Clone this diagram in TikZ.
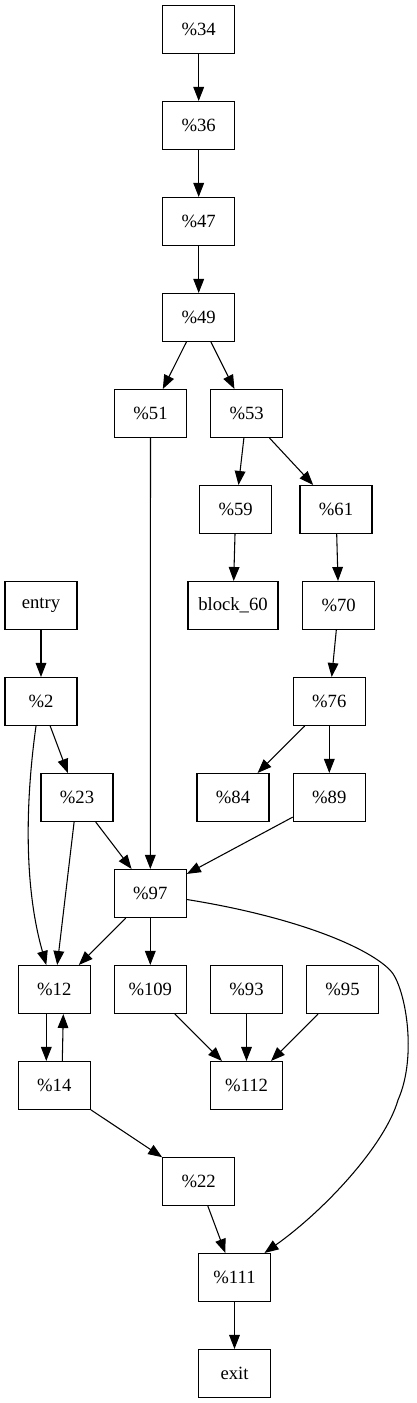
\documentclass[tikz,border=0pt]{standalone}
\usepackage{fontspec}
\setmainfont{Liberation Serif}
\usetikzlibrary{arrows.meta,calc}
\begin{document}
\begin{tikzpicture}[x=0.75pt,y=-0.75pt,
  box/.style={draw,line width=0.8pt,rectangle,minimum width=54pt,minimum height=36pt,inner sep=0pt,font=\fontsize{14}{16}\selectfont},
  edge/.style={line width=0.8pt,-{Triangle[length=10.5pt,width=8pt]}}]
\useasboundingbox (0,0) rectangle (417,1403);
% rank k: y = 29.5 + 96k
\node[box] (n34) at (198.7,29.5) {\%34};
\node[box] (n36) at (198.7,125.5) {\%36};
\node[box] (n47) at (198.7,221.5) {\%47};
\node[box] (n49) at (198.7,317.5) {\%49};
\node[box] (n51) at (150.5,413.5) {\%51};
\node[box] (n53) at (246.7,413.5) {\%53};
\node[box] (n59) at (235.7,509.5) {\%59};
\node[box] (n61) at (336,509.5) {\%61};
\node[box] (entry) at (41,605.5) {entry};
\node[box,minimum width=67.5pt] (b60) at (233,605.5) {block\_60};
\node[box] (n70) at (338.7,605.5) {\%70};
\node[box] (n2) at (41,701.5) {\%2};
\node[box] (n76) at (329.3,701.5) {\%76};
\node[box] (n23) at (77,797.5) {\%23};
\node[box] (n84) at (233,797.5) {\%84};
\node[box] (n89) at (329.3,797.5) {\%89};
\node[box] (n97) at (150.3,893.5) {\%97};
\node[box] (n12) at (54.3,989.5) {\%12};
\node[box] (n109) at (150.3,989.5) {\%109};
\node[box] (n93) at (246.5,989.5) {\%93};
\node[box] (n95) at (342.5,989.5) {\%95};
\node[box] (n14) at (54.3,1085.5) {\%14};
\node[box] (n112) at (246.5,1085.5) {\%112};
\node[box] (n22) at (198.7,1181.5) {\%22};
\node[box] (n111) at (234.5,1277.5) {\%111};
\node[box] (exit) at (234.5,1373.5) {exit};
% edges
\draw[edge] (n34) -- (n36);
\draw[edge] (n36) -- (n47);
\draw[edge] (n47) -- (n49);
\draw[edge] (n49) -- (n51);
\draw[edge] (n49) -- (n53);
\draw[edge] (n51) -- (n97);
\draw[edge] (n53) -- (n59);
\draw[edge] (n53) -- (n61);
\draw[edge] (n59) -- (b60);
\draw[edge] (n61) -- (n70);
\draw[edge] (n70) -- (n76);
\draw[edge] (n76) -- (n84);
\draw[edge] (n76) -- (n89);
\draw[edge] (n89) -- (n97);
\draw[edge] (entry) -- (n2);
\draw[edge] ($(n2.south)+(-5,0)$) .. controls (27,790) and (22,880) .. ($(n12.north)+(-8,0)$);
\draw[edge] (n2) -- (n23);
\draw[edge] (n23) -- (n12);
\draw[edge] (n23) -- (n97);
\draw[edge] (n97) -- (n12);
\draw[edge] (n97) -- (n109);
\draw[edge] ($(n97.east)+(0,6)$) .. controls (290,916) and (365,945) .. (390,970)
  .. controls (405,985) and (418,1055) .. (398,1100)
  .. controls (385,1145) and (325,1210) .. ($(n111.north)+(30,0)$);
\draw[edge] ($(n12.south)+(-8,0)$) -- ($(n14.north)+(-8,0)$);
\draw[edge] ($(n14.north)+(8,0)$) -- ($(n12.south)+(9,0)$);
\draw[edge] (n109) -- (n112);
\draw[edge] (n93) -- (n112);
\draw[edge] (n95) -- (n112);
\draw[edge] (n14) -- (n22);
\draw[edge] (n22) -- (n111);
\draw[edge] (n111) -- (exit);
\end{tikzpicture}
\end{document}
